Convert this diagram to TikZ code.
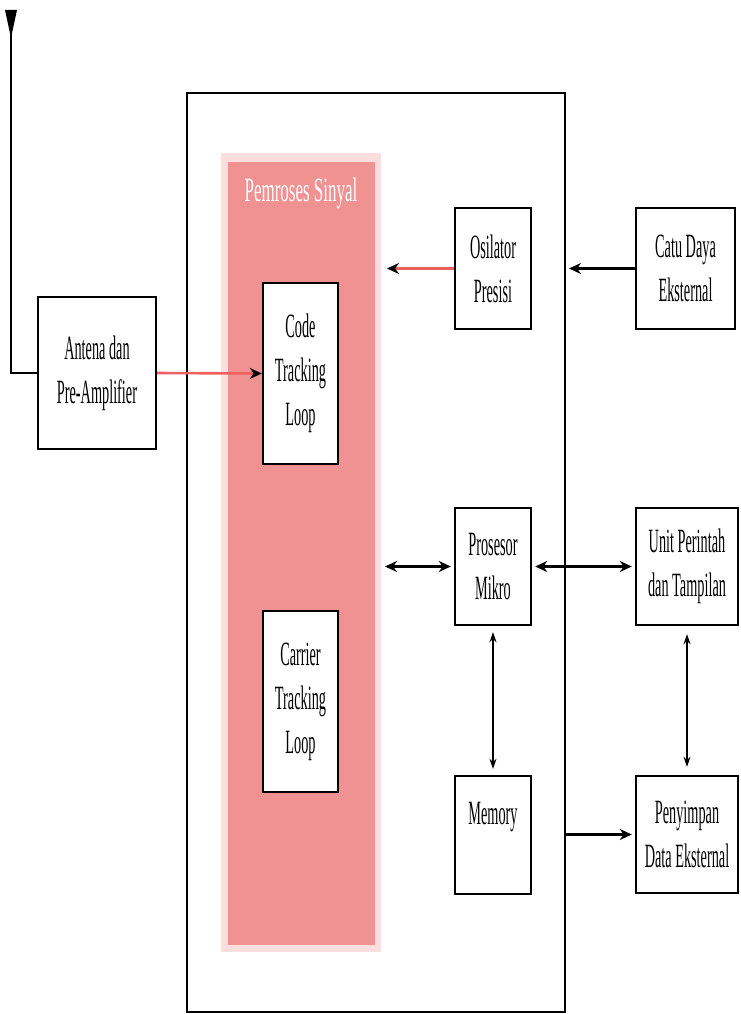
\documentclass[tikz,border=0pt]{standalone}
\usepackage{fontspec}
\setmainfont{Liberation Serif}
\newfontfamily\blkfont{Liberation Serif}[FakeStretch=0.42]
\newfontfamily\ttlfont{Liberation Serif}[FakeStretch=0.5]
\usetikzlibrary{arrows.meta, positioning}
\definecolor{cPink}{RGB}{240,146,146}
\definecolor{cPinkEdge}{RGB}{252,222,222}
\definecolor{cRed}{RGB}{238,96,96}
\tikzset{
	blk/.style   ={rectangle, draw=black, line width=2.4pt, fill=white, align=center, inner sep=0pt, font=\blkfont\fontsize{34}{44}\selectfont},
	sig/.style   ={-{Stealth[length=12pt, width=11pt]}, line width=2.6pt},
	sigred/.style={sig, draw=cRed, -{Stealth[length=12pt, width=11pt, black]}},
	bidir/.style ={{Stealth[length=12pt, width=11pt]}-{Stealth[length=12pt, width=11pt]}, line width=2.6pt},
	thin/.style  ={{Stealth[length=10pt, width=7pt]}-{Stealth[length=10pt, width=7pt]}, line width=1.3pt},
}
\begin{document}
\begin{tikzpicture}[x=1pt, y=-1pt]
	\useasboundingbox (0,0) rectangle (741,1014);
	% receiver housing and signal processing block
	\draw[line width=2pt] (187,93) rectangle (565,1012);
	\fill[cPinkEdge] (221,153) rectangle (381,952);
	\fill[cPink] (228,162) rectangle (375,945);
	\node[text=white, font=\ttlfont\fontsize{34}{40}\selectfont] (ttl) at (301,193) {Pemroses Sinyal};
	% blocks
	\node[blk, minimum width=118pt, minimum height=152pt] (ant) at (97,373) {Antena dan\\Pre-Amplifier};
	\node[blk, minimum width=75pt, minimum height=181pt] (code) at (300.5,373.5) {Code\\Tracking\\Loop};
	\node[blk, minimum width=75pt, minimum height=181pt] (carr) at (300.5,701.5) {Carrier\\Tracking\\Loop};
	\node[blk, minimum width=76pt, minimum height=121pt] (osc) at (493,268.5) {Osilator\\Presisi};
	\node[blk, minimum width=99pt, minimum height=121pt] (catu) at (685.5,268.5) {Catu Daya\\Eksternal};
	\node[blk, minimum width=76pt, minimum height=117pt] (proc) at (493,566.5) {Prosesor\\Mikro};
	\node[blk, minimum width=102pt, minimum height=117pt] (unit) at (687,566.5) {Unit Perintah\\dan Tampilan};
	\node[blk, minimum width=76pt, minimum height=118pt] (mem) at (493,835) {Memory\\\phantom{M}};
	\node[blk, minimum width=102pt, minimum height=117pt] (pen) at (687,834.5) {Penyimpan\\Data Eksternal};
	% antenna
	\coordinate (antip) at (11,14);
	\fill (5,10) -- (17,10) -- (11,38) -- cycle;
	\draw[line width=1.5pt] (antip) |- (ant.west);
	% free ends
	\coordinate (oscout) at (387,0);
	\coordinate (catuout) at (569,0);
	\coordinate (procbus) at (385,0);
	\coordinate (penbus) at (565,0);
	% connectors
	\draw[sigred] (ant.east) -- (code.west);
	\draw[sigred] (osc.west) -- (osc.west -| oscout);
	\draw[sig] (catu.west) -- (catu.west -| catuout);
	\draw[bidir] (procbus |- proc.west) -- ([xshift=-3pt]proc.west);
	\draw[bidir] ([xshift=3pt]proc.east) -- ([xshift=-3pt]unit.west);
	\draw[thin, shorten <=6pt, shorten >=6pt] (proc.south) -- (mem.north);
	\draw[thin, shorten <=8pt, shorten >=8pt] (unit.south) -- (pen.north);
	\draw[sig] (penbus |- pen.west) -- ([xshift=-3pt]pen.west);
\end{tikzpicture}
\end{document}
